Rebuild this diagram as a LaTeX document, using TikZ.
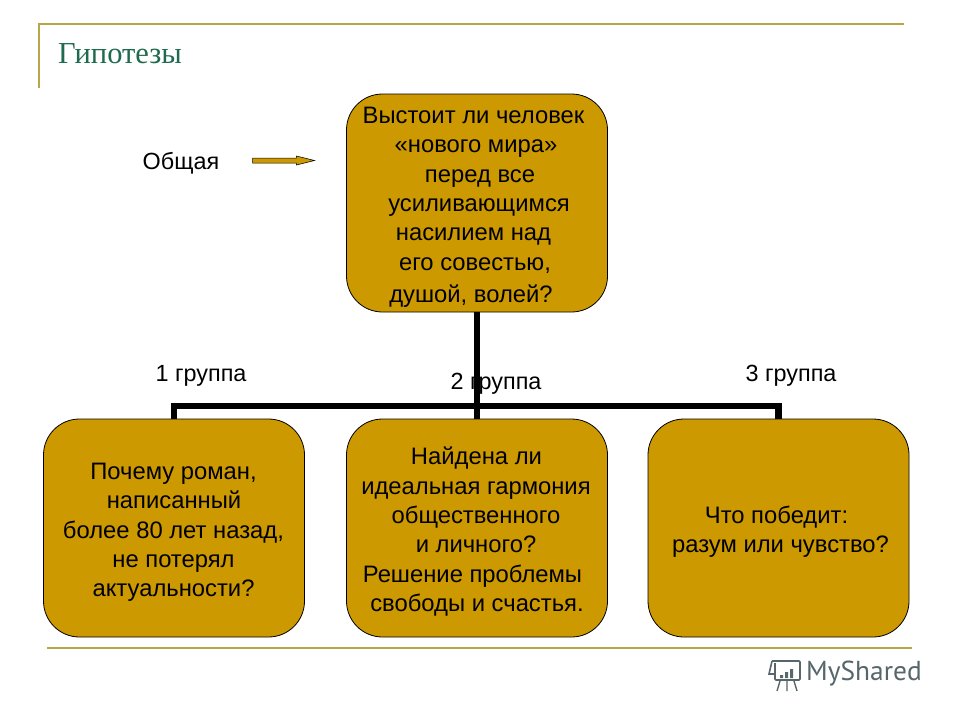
\documentclass[tikz,border=0pt]{standalone}
\usepackage{fontspec}
\setmainfont{Liberation Sans}
\newfontfamily\titlefont{Liberation Serif}
\newfontfamily\brandfont{PT Sans}
\usetikzlibrary{shapes.arrows}
\definecolor{boxgold}{HTML}{CC9900}
\definecolor{frameolive}{HTML}{B8A648}
\definecolor{titlegreen}{HTML}{1F6B4F}
\definecolor{brandgrey}{HTML}{56666A}
\newcommand{\firstline}{\rule{0pt}{25pt}}
\begin{document}
\begin{tikzpicture}[
x=1pt, y=-1pt,
question/.style={rectangle, rounded corners=36pt, draw=black, fill=boxgold, line width=0.8pt, minimum width=261pt, minimum height=218pt, inner sep=0pt, align=center, font=\fontsize{23.8}{29.4}\selectfont},
frameline/.style={draw=frameolive, line width=2.6pt},
trunk/.style={draw=black, line width=6.5pt},
caption/.style={inner sep=0pt, font=\fontsize{23.4}{28}\selectfont},
]
\useasboundingbox (0,0) rectangle (960,720);
% frame
\coordinate (frameTL) at (39,24);
\coordinate (frameTR) at (904,24);
\coordinate (frameL) at (39,88);
\coordinate (frameBL) at (47,648);
\coordinate (frameBR) at (912,648);
\draw[frameline] (frameL) -- (frameTL) -- (frameTR);
\draw[frameline] (frameBL) -- (frameBR);
\node (title) [inner sep=0pt, anchor=west, text=titlegreen, font=\titlefont\fontsize{30.5}{36}\selectfont] at (58,54) {Гипотезы};
% boxes
\node (general) [question] at (477,203) {\firstline Выстоит ли человек\kern7pt\\«нового мира»\kern2pt\\\kern6pt перед все\\\kern4pt усиливающимся\\насилием над\kern7pt\\его совестью,\kern4pt\\[3pt]душой, волей?\kern12pt};
\node (group1) [question] at (174,528) {\firstline Почему роман,\kern1pt\\написанный\\более 80 лет назад,\kern1pt\\не потерял\kern1pt\\актуальности?\kern1pt};
\node (group2) [question] at (477,528) {\firstline Найдена ли\kern1pt\\идеальная гармония\kern2pt\\общественного\kern2pt\\и личного?\kern2pt\\Решение проблемы\kern9pt\\свободы и счастья.};
\node (group3) [question] at (778.5,528) {\firstline Что победит:\kern4pt\\\kern4pt разум или чувство?};
% connectors
\coordinate (bus) at (general.south |- 0,406);
\draw[trunk] (general.south) -- (group2.north);
\draw[trunk] (group1.north) |- (bus) -| (group3.north);
% labels
\node (label1) [caption] at (201,376) {1 группа};
\node (label2) [caption] at (496,384) {2 группа};
\node (label3) [caption] at (791,376) {3 группа};
\node (common) [caption] at (181,163) {Общая};
\node (pointer) [single arrow, draw=black, fill=boxgold, line width=0.5pt, inner sep=0pt, text width=0pt, text height=4.5pt, text depth=0pt, minimum height=62pt, single arrow head extend=2pt, single arrow tip angle=28] at (278.5,160.5) {};
% logo
\node (brand) [inner sep=0pt, anchor=west, text=brandgrey, font=\brandfont\fontsize{27.4}{30}\selectfont] at (806,674) {MyShared};
\draw[brandgrey, line width=1.6pt, rounded corners=1pt] (772,661) -- (800,661) -- (800,680) -- (775,680) -- (775,663);
\draw[brandgrey, line width=1.6pt] (772,661) -- (769,674) -- (775,674);
\fill[brandgrey] (780,675) rectangle (783,678) (785,672) rectangle (788,678) (790,669) rectangle (793,678);
\draw[brandgrey, line width=1.4pt] (780,681) -- (777,691) (787,681) -- (787,691) (794,681) -- (797,691);
\end{tikzpicture}
\end{document}
